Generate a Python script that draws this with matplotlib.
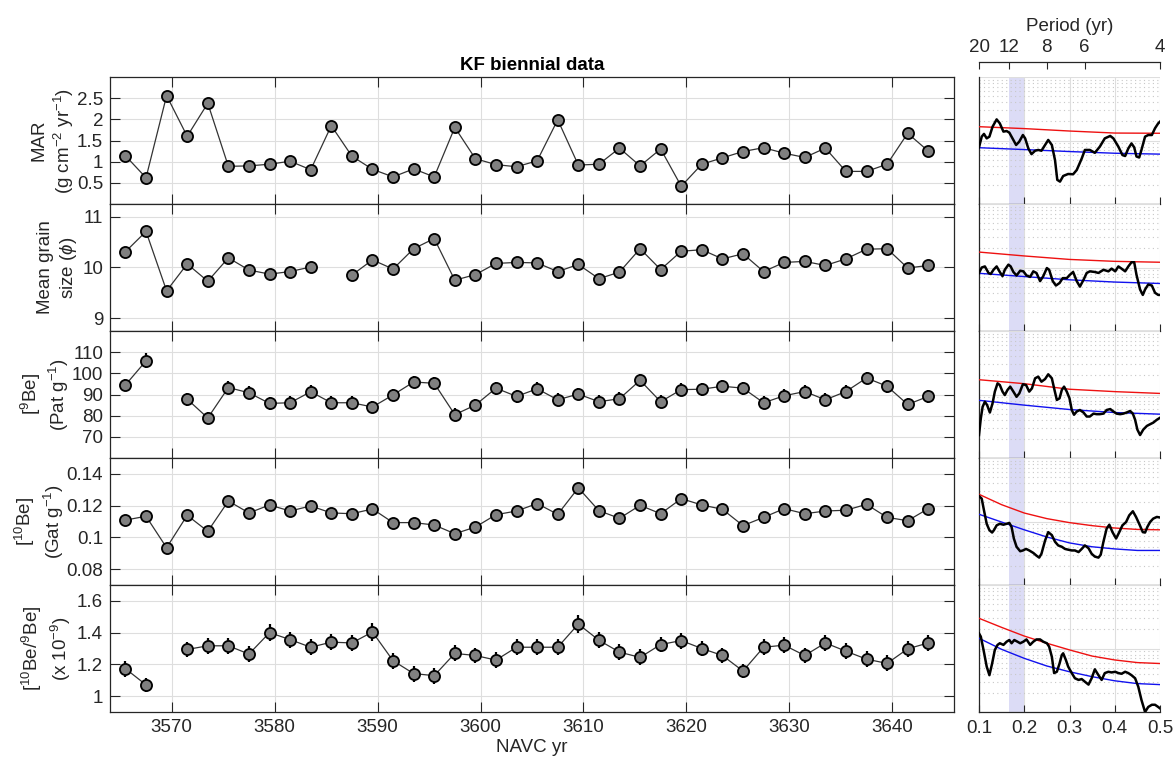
import matplotlib
matplotlib.use("Agg")
import matplotlib.pyplot as plt
import numpy as np
from matplotlib.ticker import FuncFormatter, LogLocator, NullFormatter

plt.rcParams["font.family"] = ["Liberation Sans", "DejaVu Sans"]
plt.rcParams["mathtext.fontset"] = "custom"
plt.rcParams["mathtext.rm"] = "Liberation Sans"
plt.rcParams["mathtext.it"] = "Liberation Sans:italic"

# ---- time series (NAVC yr, biennial) ----
years = np.arange(3565.5, 3644.0, 2.0)

mar = [1.14, 0.62, 2.56, 1.60, 2.38, 0.89, 0.90, 0.94, 1.01, 0.81,
       1.85, 1.13, 0.82, 0.64, 0.83, 0.64, 1.81, 1.07, 0.93, 0.88,
       1.02, 1.99, 0.92, 0.94, 1.32, 0.90, 1.30, 0.42, 0.94, 1.09,
       1.24, 1.33, 1.20, 1.10, 1.32, 0.77, 0.77, 0.94, 1.67, 1.25]

grain = [10.31, 10.71, 9.54, 10.07, 9.73, 10.19, 9.95, 9.87, 9.92, 10.01,
         np.nan, 9.85, 10.15, 9.97, 10.37, 10.57, 9.75, 9.86, 10.08, 10.10,
         10.09, 9.92, 10.06, 9.78, 9.91, 10.37, 9.96, 10.32, 10.35, 10.17,
         10.27, 9.92, 10.10, 10.12, 10.04, 10.17, 10.36, 10.37, 9.99, 10.04]

be9 = [94.5, 105.9, np.nan, 87.8, 78.9, 93.3, 90.8, 85.8, 86.1, 91.3,
       86.1, 86.1, 84.1, 89.8, 95.9, 95.3, 80.5, 85.0, 93.0, 89.1,
       92.7, 87.5, 90.2, 86.6, 88.0, 96.7, 86.6, 92.3, 92.5, 93.9,
       93.0, 86.1, 89.4, 91.4, 87.5, 91.4, 97.8, 93.9, 85.3, 89.1]
be9_err = [3.0, 3.6, np.nan, 3.0, 3.0, 3.0, 3.0, 3.0, 3.0, 3.0,
           3.0, 3.0, 3.0, 3.0, 3.0, 3.0, 3.0, 3.0, 3.0, 3.0,
           3.0, 3.0, 3.0, 3.0, 3.0, 3.0, 3.0, 3.0, 3.0, 3.0,
           3.0, 3.0, 3.0, 3.0, 3.0, 3.0, 3.0, 3.0, 3.0, 3.0]

be10 = [0.1109, 0.1133, 0.0935, 0.1139, 0.1038, 0.1229, 0.1154, 0.1204, 0.1166, 0.1198,
        0.1154, 0.1149, 0.1179, 0.1093, 0.1093, 0.1078, 0.1023, 0.1065, 0.1143, 0.1166,
        0.1213, 0.1145, 0.1312, 0.1168, 0.1120, 0.1202, 0.1149, 0.1244, 0.1204, 0.1177,
        0.1074, 0.1126, 0.1181, 0.1149, 0.1166, 0.1171, 0.1208, 0.1126, 0.1105, 0.1181]

ratio = [1.173, 1.071, np.nan, 1.294, 1.317, 1.317, 1.265, 1.400, 1.356, 1.308,
         1.340, 1.335, 1.404, 1.223, 1.142, 1.129, 1.269, 1.256, 1.227, 1.308,
         1.308, 1.308, 1.454, 1.352, 1.277, 1.244, 1.325, 1.350, 1.300, 1.256,
         1.158, 1.308, 1.321, 1.256, 1.335, 1.283, 1.233, 1.206, 1.298, 1.335]
ratio_err = [0.050, 0.045, np.nan, 0.050, 0.050, 0.050, 0.050, 0.055, 0.050, 0.050,
             0.050, 0.050, 0.055, 0.050, 0.050, 0.050, 0.050, 0.050, 0.050, 0.050,
             0.050, 0.050, 0.055, 0.050, 0.050, 0.050, 0.050, 0.050, 0.050, 0.050,
             0.045, 0.050, 0.050, 0.050, 0.050, 0.050, 0.050, 0.050, 0.050, 0.050]

# ---- spectra (frequency in cycles per sample, relative power) ----
spec_mar_f = [0.100, 0.106, 0.111, 0.117, 0.123, 0.130, 0.139, 0.146, 0.154, 0.161,
              0.167, 0.174, 0.182, 0.189, 0.197, 0.202, 0.209, 0.216, 0.224, 0.231,
              0.238, 0.246, 0.253, 0.261, 0.268, 0.273, 0.279, 0.286, 0.297, 0.308,
              0.316, 0.327, 0.334, 0.345, 0.356, 0.367, 0.378, 0.390, 0.397, 0.408,
              0.417, 0.423, 0.430, 0.437, 0.443, 0.448, 0.454, 0.459, 0.467, 0.474,
              0.482, 0.489, 0.496, 0.500]
spec_mar_p = [0.78, 1.15, 1.27, 1.08, 1.15, 1.65, 2.15, 1.86, 1.38, 1.41,
              1.33, 1.08, 0.85, 0.96, 1.22, 1.08, 0.75, 0.61, 0.69, 0.71,
              0.69, 0.85, 1.02, 0.85, 0.49, 0.24, 0.225, 0.276, 0.297, 0.294,
              0.343, 0.52, 0.71, 0.71, 0.64, 0.80, 1.08, 1.18, 1.08, 0.80,
              0.59, 0.57, 0.75, 0.90, 0.78, 0.56, 0.54, 0.71, 1.15, 1.22,
              1.22, 1.56, 1.86, 1.98]

spec_grain_f = [0.100, 0.106, 0.113, 0.121, 0.126, 0.132, 0.139, 0.146, 0.152, 0.157,
                0.165, 0.170, 0.176, 0.183, 0.191, 0.198, 0.205, 0.213, 0.220, 0.227,
                0.235, 0.242, 0.250, 0.255, 0.263, 0.270, 0.278, 0.285, 0.294, 0.301,
                0.308, 0.316, 0.323, 0.331, 0.338, 0.345, 0.356, 0.364, 0.375, 0.386,
                0.393, 0.401, 0.408, 0.415, 0.423, 0.430, 0.437, 0.443, 0.448, 0.456,
                0.462, 0.467, 0.474, 0.482, 0.489, 0.496, 0.500]
spec_grain_p = [0.82, 1.00, 1.04, 0.82, 0.79, 0.92, 1.04, 0.85, 0.73, 0.92,
                1.11, 1.04, 0.85, 0.75, 0.89, 0.87, 0.75, 0.71, 0.87, 0.82,
                0.61, 0.73, 0.98, 0.92, 0.61, 0.52, 0.57, 0.68, 0.68, 0.77,
                0.85, 0.61, 0.50, 0.64, 0.82, 0.87, 0.85, 0.82, 0.92, 0.87,
                0.96, 0.87, 1.04, 0.96, 0.87, 1.04, 1.21, 1.21, 0.77, 0.45,
                0.37, 0.45, 0.54, 0.52, 0.40, 0.37, 0.37]

spec_be9_f = [0.100, 0.104, 0.108, 0.113, 0.118, 0.124, 0.130, 0.135, 0.141, 0.146,
              0.152, 0.157, 0.163, 0.169, 0.176, 0.183, 0.189, 0.197, 0.204, 0.211,
              0.217, 0.224, 0.231, 0.238, 0.246, 0.253, 0.261, 0.266, 0.272, 0.278,
              0.283, 0.288, 0.294, 0.300, 0.305, 0.310, 0.316, 0.323, 0.331, 0.338,
              0.345, 0.353, 0.360, 0.367, 0.375, 0.382, 0.390, 0.397, 0.404, 0.412,
              0.419, 0.426, 0.434, 0.440, 0.445, 0.450, 0.456, 0.463, 0.471, 0.478,
              0.485, 0.493, 0.500]
spec_be9_p = [0.23, 0.42, 0.64, 0.77, 0.68, 0.52, 0.73, 1.11, 1.50, 1.41,
              1.11, 0.98, 1.18, 1.33, 1.11, 0.92, 1.04, 1.45, 1.41, 1.11,
              1.25, 1.80, 1.91, 1.59, 1.75, 2.08, 1.80, 1.25, 0.82, 0.87,
              1.18, 1.33, 1.11, 0.87, 0.57, 0.48, 0.54, 0.57, 0.52, 0.45,
              0.45, 0.50, 0.49, 0.49, 0.50, 0.57, 0.59, 0.54, 0.50, 0.49,
              0.50, 0.52, 0.55, 0.50, 0.40, 0.28, 0.23, 0.28, 0.32, 0.34,
              0.36, 0.40, 0.43]

spec_be10_f = [0.100, 0.106, 0.111, 0.117, 0.123, 0.129, 0.133, 0.139, 0.146, 0.154,
               0.161, 0.167, 0.172, 0.177, 0.183, 0.191, 0.197, 0.204, 0.211, 0.220,
               0.227, 0.233, 0.238, 0.246, 0.253, 0.261, 0.268, 0.275, 0.283, 0.290,
               0.297, 0.305, 0.312, 0.320, 0.327, 0.334, 0.342, 0.349, 0.356, 0.364,
               0.369, 0.375, 0.382, 0.388, 0.395, 0.403, 0.410, 0.417, 0.425, 0.432,
               0.440, 0.447, 0.454, 0.462, 0.467, 0.472, 0.478, 0.485, 0.493, 0.499]
spec_be10_p = [2.52, 2.29, 1.50, 0.92, 0.73, 0.67, 0.73, 0.87, 0.92, 0.89,
               0.92, 0.95, 0.82, 0.54, 0.40, 0.34, 0.35, 0.37, 0.35, 0.32,
               0.29, 0.27, 0.31, 0.50, 0.68, 0.61, 0.48, 0.42, 0.40, 0.37,
               0.36, 0.35, 0.35, 0.33, 0.37, 0.42, 0.38, 0.31, 0.28, 0.27,
               0.30, 0.48, 0.77, 0.89, 0.68, 0.54, 0.68, 0.87, 0.98, 1.25,
               1.45, 1.18, 0.92, 0.68, 0.67, 0.82, 0.98, 1.11, 1.18, 1.16]

spec_ratio_f = [0.100, 0.104, 0.110, 0.117, 0.123, 0.129, 0.135, 0.141, 0.146, 0.154,
                0.161, 0.167, 0.172, 0.178, 0.185, 0.191, 0.198, 0.205, 0.213, 0.220,
                0.227, 0.235, 0.242, 0.250, 0.255, 0.261, 0.266, 0.272, 0.278, 0.283,
                0.286, 0.292, 0.297, 0.305, 0.312, 0.320, 0.327, 0.334, 0.342, 0.349,
                0.356, 0.364, 0.371, 0.378, 0.386, 0.393, 0.401, 0.408, 0.415, 0.423,
                0.430, 0.437, 0.445, 0.452, 0.459, 0.467, 0.474, 0.482, 0.489, 0.496,
                0.500]
spec_ratio_p = [1.73, 1.54, 0.95, 0.52, 0.38, 0.58, 0.95, 1.14, 1.21, 1.14,
                1.28, 1.36, 1.21, 1.36, 1.28, 1.21, 1.28, 1.39, 1.14, 1.28,
                1.39, 1.39, 1.28, 1.21, 1.07, 0.74, 0.41, 0.43, 0.58, 0.79,
                0.84, 0.66, 0.52, 0.41, 0.34, 0.32, 0.33, 0.30, 0.27, 0.34,
                0.47, 0.38, 0.32, 0.41, 0.43, 0.42, 0.43, 0.41, 0.40, 0.43,
                0.41, 0.38, 0.34, 0.25, 0.155, 0.10, 0.12, 0.13, 0.13, 0.12,
                0.114]

# red-noise confidence (red) and background (blue) curves
noise_f5 = [0.1, 0.2, 0.3, 0.4, 0.5]
noise_f9 = [0.1, 0.15, 0.2, 0.25, 0.3, 0.35, 0.4, 0.45, 0.5]
red_mar = [1.65, 1.54, 1.41, 1.31, 1.30]
blue_mar = [0.77, 0.72, 0.67, 0.63, 0.61]
red_grain = [1.75, 1.52, 1.34, 1.25, 1.21]
blue_grain = [0.81, 0.72, 0.64, 0.59, 0.56]
red_be9 = [1.71, 1.48, 1.21, 1.11, 1.04]
blue_be9 = [0.81, 0.68, 0.58, 0.52, 0.49]
red_be10 = [2.68, 1.84, 1.36, 1.11, 0.96, 0.86, 0.79, 0.75, 0.74]
blue_be10 = [1.30, 0.98, 0.74, 0.57, 0.46, 0.40, 0.37, 0.35, 0.35]
red_ratio = [2.99, 2.15, 1.57, 1.21, 0.95, 0.76, 0.66, 0.60, 0.58]
blue_ratio = [1.45, 0.97, 0.70, 0.53, 0.43, 0.36, 0.31, 0.28, 0.27]

period_ticks = [20, 12, 8, 6, 4]
band_periods = (12, 10)
sample_step = 2.0  # yr per sample

AX_COL = "#262626"
GRID_COL = "#dedede"
MINOR_COL = "#c8c8c8"
FS = 13.5


def pix_axes(fig, x0, y0, x1, y1):
    W, H = 1173, 763
    return fig.add_axes([x0 / W, 1 - y1 / H, (x1 - x0) / W, (y1 - y0) / H])


def gfmt(v, pos):
    return f"{v:g}"


fig = plt.figure(figsize=(11.73, 7.63), dpi=100)

panel_tops = [77, 204, 331, 458, 585]
ph = 127

series = [
    (mar, None, (0, 3), [0.5, 1, 1.5, 2, 2.5],
     "MAR\n(g cm$^{-2}$ yr$^{-1}$)", -0.040),
    (grain, None, (8.75, 11.25), [9, 10, 11],
     "Mean grain\nsize ($\\phi$)", -0.037),
    (be9, be9_err, (60, 120), [70, 80, 90, 100, 110],
     "[$^{9}$Be]\n(Pat g$^{-1}$)", -0.046),
    (be10, None, (0.07, 0.15), [0.08, 0.1, 0.12, 0.14],
     "[$^{10}$Be]\n(Gat g$^{-1}$)", -0.052),
    (ratio, ratio_err, (0.9, 1.7), [1, 1.2, 1.4, 1.6],
     "[$^{10}$Be/$^{9}$Be]\n(x 10$^{-9}$)", -0.044),
]

spectra = [
    (spec_mar_f, spec_mar_p, noise_f5, red_mar, blue_mar),
    (spec_grain_f, spec_grain_p, noise_f5, red_grain, blue_grain),
    (spec_be9_f, spec_be9_p, noise_f5, red_be9, blue_be9),
    (spec_be10_f, spec_be10_p, noise_f9, red_be10, blue_be10),
    (spec_ratio_f, spec_ratio_p, noise_f9, red_ratio, blue_ratio),
]

for i, (vals, err, ylim, yticks, ylab, labx) in enumerate(series):
    top = panel_tops[i]
    ax = pix_axes(fig, 110, top, 954, top + ph)
    vals = np.array(vals, dtype=float)
    if err is not None:
        ax.errorbar(years, vals, yerr=np.array(err, dtype=float), fmt="none",
                    ecolor="black", elinewidth=1.6, capsize=0, zorder=2)
    ax.plot(years, vals, "-", color="#333333", lw=0.9, zorder=3)
    ax.plot(years, vals, "o", ms=8, mfc="#808080", mec="black", mew=1.3, zorder=4)
    ax.set_xlim(3564, 3646)
    ax.set_ylim(*ylim)
    ax.set_yticks(yticks)
    ax.set_xticks(np.arange(3570, 3641, 10))
    ax.yaxis.set_major_formatter(FuncFormatter(gfmt))
    ax.grid(True, color=GRID_COL, lw=0.8)
    ax.set_axisbelow(True)
    ax.tick_params(direction="in", length=7, width=0.8, colors=AX_COL,
                   labelsize=FS, top=True, right=True, labelcolor=AX_COL, pad=5)
    for sp in ax.spines.values():
        sp.set_color(AX_COL)
        sp.set_linewidth(0.9)
    ax.set_ylabel(ylab, fontsize=FS, color=AX_COL, linespacing=1.25)
    ax.yaxis.set_label_coords(labx, 0.5)
    if i < 4:
        ax.tick_params(labelbottom=False)
    else:
        ax.set_xlabel("NAVC yr", fontsize=FS, color=AX_COL, labelpad=2)
    if i == 0:
        ax.set_title("KF biennial data", fontsize=FS, fontweight="bold",
                     color="black", pad=5)

band = (sample_step / band_periods[0], sample_step / band_periods[1])

for i, (sf, sp_, nf, red, blue) in enumerate(spectra):
    top = panel_tops[i]
    ax = pix_axes(fig, 979, top, 1160, top + ph)
    ax.set_yscale("log")
    ax.set_xlim(0.1, 0.5)
    ax.set_ylim(0.1, 10)
    ax.axvspan(band[0], band[1], color="#dcdcf6", lw=0, zorder=0)
    ax.plot(nf, red, color="#ee1111", lw=1.0, zorder=3)
    ax.plot(nf, blue, color="#1111ee", lw=1.0, zorder=3)
    ax.plot(sf, sp_, color="black", lw=1.8, zorder=4)
    ax.set_xticks([0.1, 0.2, 0.3, 0.4, 0.5])
    ax.xaxis.set_major_formatter(FuncFormatter(gfmt))
    ax.yaxis.set_major_locator(LogLocator(base=10, numticks=5))
    ax.yaxis.set_minor_locator(LogLocator(base=10, subs=np.arange(2, 10), numticks=20))
    ax.yaxis.set_major_formatter(NullFormatter())
    ax.yaxis.set_minor_formatter(NullFormatter())
    ax.grid(True, which="major", color=GRID_COL, lw=0.8)
    ax.yaxis.grid(True, which="minor", color=MINOR_COL, lw=0.8, ls=(0, (1, 3)))
    ax.set_axisbelow(True)
    ax.tick_params(axis="x", direction="in", length=5, width=0.8, colors=AX_COL,
                   labelsize=FS, labelcolor=AX_COL, pad=6)
    ax.tick_params(axis="y", which="both", direction="in", length=0)
    ax.spines["top"].set_visible(False)
    ax.spines["right"].set_visible(False)
    for s in ("left", "bottom"):
        ax.spines[s].set_color(AX_COL)
        ax.spines[s].set_linewidth(0.9)
    if i < 4:
        ax.tick_params(labelbottom=False)

# period axis above the spectra
pax = pix_axes(fig, 979, 62, 1160, 62.01)
pax.set_xlim(0.1, 0.5)
pax.set_yticks([])
for s in ("left", "right", "bottom"):
    pax.spines[s].set_visible(False)
pax.spines["top"].set_color(AX_COL)
pax.spines["top"].set_linewidth(0.9)
pax.xaxis.set_ticks_position("top")
pax.xaxis.set_label_position("top")
pax.set_xticks([sample_step / p for p in period_ticks])
pax.set_xticklabels([str(p) for p in period_ticks])
pax.tick_params(axis="x", direction="in", length=5, width=0.8, colors=AX_COL,
                labelsize=FS, labelcolor=AX_COL, pad=4)
pax.set_xlabel("Period (yr)", fontsize=FS, color=AX_COL, labelpad=6)

fig.savefig("out.png", dpi=100)
